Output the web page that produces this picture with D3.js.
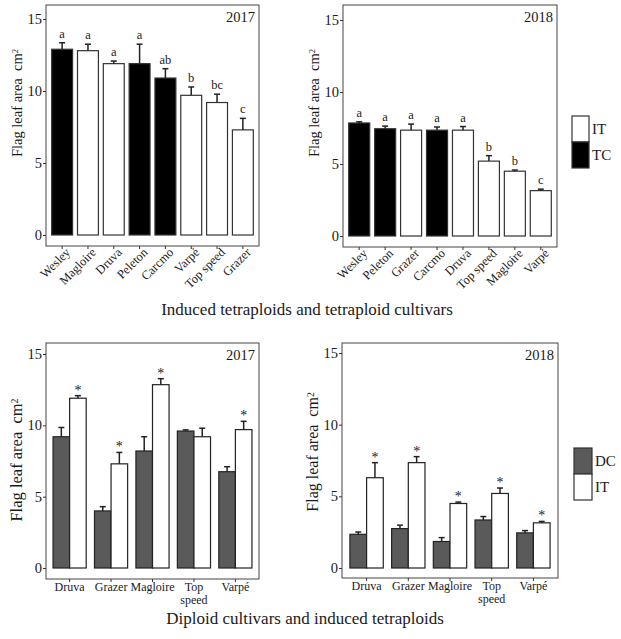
<!DOCTYPE html>
<html>
<head>
<meta charset="utf-8">
<script src="https://cdn.jsdelivr.net/npm/d3@7"></script>
<style>
    body { margin: 0; background: #fff; }
    svg text { font-family: "Liberation Serif", "Times New Roman", serif; fill: #1a1a1a; }
    .axis line { stroke: #333; }
    .axis path { display: none; }
</style>
</head>
<body>
<div id="chart"></div>
<script>

// 2017 - induced tetraploids (IT) and tetraploid cultivars (TC)
var cultivars17 = ["Wesley", "Magloire", "Druva", "Peleton", "Carcmo", "Varpé", "Top speed", "Grazer"];
var area17 = [12.9, 12.8, 11.9, 11.9, 10.9, 9.7, 9.2, 7.3];
var se17 = [0.45, 0.45, 0.18, 1.35, 0.65, 0.58, 0.58, 0.8];
var type17 = ["TC", "IT", "IT", "TC", "TC", "IT", "IT", "IT"];
var letters17 = ["a", "a", "a", "a", "ab", "b", "bc", "c"];

// 2018
var cultivars18 = ["Wesley", "Peleton", "Grazer", "Carcmo", "Druva", "Top speed", "Magloire", "Varpé"];
var area18 = [7.85, 7.45, 7.35, 7.35, 7.35, 5.2, 4.5, 3.15];
var se18 = [0.08, 0.18, 0.42, 0.22, 0.25, 0.38, 0.08, 0.1];
var type18 = ["TC", "TC", "IT", "TC", "IT", "IT", "IT", "IT"];
var letters18 = ["a", "a", "a", "a", "a", "b", "b", "c"];

// Diploid cultivars (DC) vs induced tetraploids (IT)
var pairNames = ["Druva", "Grazer", "Magloire", "Top speed", "Varpé"];
var dc17 = [9.2, 4.0, 8.2, 9.6, 6.75];
var dc17se = [0.65, 0.3, 1.0, 0.08, 0.35];
var it17 = [11.9, 7.3, 12.85, 9.2, 9.7];
var it17se = [0.18, 0.8, 0.42, 0.6, 0.58];
var sig17 = [true, true, true, false, true];
var dc18 = [2.35, 2.75, 1.85, 3.35, 2.45];
var dc18se = [0.16, 0.24, 0.27, 0.24, 0.16];
var it18 = [6.3, 7.35, 4.5, 5.2, 3.15];
var it18se = [1.05, 0.42, 0.1, 0.38, 0.1];
var sig18 = [true, true, true, true, true];

var yTicks = [0, 5, 10, 15];
var fills = { TC: "#000", IT: "#fff", DC: "#5a5a5a" };

var svg = d3.select("#chart").append("svg")
    .attr("width", 621)
    .attr("height", 639);


// shared: frame, y axis, year label, y title
function drawFrame(p, year) {
    var g = svg.append("g");

    g.append("rect")
        .attr("x", p.left)
        .attr("y", p.top)
        .attr("width", p.right - p.left)
        .attr("height", p.bottom - p.top)
        .attr("fill", "none")
        .attr("stroke", "#444")
        .attr("stroke-width", 1);

    var y = d3.scaleLinear().domain([0, 15]).range([p.y0, p.y15]);

    g.append("g")
        .attr("class", "axis")
        .attr("transform", "translate(" + p.left + ",0)")
        .call(d3.axisLeft(y).tickValues(yTicks).tickSize(3).tickPadding(1))
        .selectAll("text")
        .style("font-size", "14.5px");

    g.append("text")
        .attr("x", p.right - 4)
        .attr("y", p.top + 17)
        .attr("text-anchor", "end")
        .style("font-size", "14.5px")
        .text(year);

    var title = g.append("text")
        .attr("transform", "translate(" + (p.left - 24) + "," + p.titleY + ") rotate(-90)")
        .attr("text-anchor", "middle")
        .style("font-size", p.titleSize);
    title.append("tspan").text("Flag leaf area\u00a0\u00a0cm");
    title.append("tspan").attr("dy", "-0.45em").style("font-size", "0.6em").text("2");

    return { g: g, y: y };
}

function errorBar(g, cx, yTop, yEnd) {
    g.append("line")
        .attr("x1", cx).attr("x2", cx)
        .attr("y1", yTop).attr("y2", yEnd)
        .attr("stroke", "#222").attr("stroke-width", 1.5);
    g.append("line")
        .attr("x1", cx - 3).attr("x2", cx + 3)
        .attr("y1", yEnd).attr("y2", yEnd)
        .attr("stroke", "#222").attr("stroke-width", 1.5);
}


// single bars with significance letters (top row)
function drawRanked(p, year, names, values, errs, types, letters) {
    var f = drawFrame(p, year);
    var g = f.g, y = f.y;

    var x = d3.scaleBand()
        .domain(names)
        .range([p.left, p.right])
        .paddingInner(0.19)
        .paddingOuter(0.22);

    var xAxis = g.append("g")
        .attr("class", "axis")
        .attr("transform", "translate(0," + p.bottom + ")")
        .call(d3.axisBottom(x).tickSize(3).tickPadding(2));
    xAxis.selectAll("text")
        .style("font-size", "12.5px")
        .attr("text-anchor", "end")
        .attr("dx", "0.1em")
        .attr("dy", "0.5em")
        .attr("transform", "rotate(-45)");

    names.forEach(function(n, i) {
        g.append("rect")
            .attr("x", x(n))
            .attr("y", y(values[i]))
            .attr("width", x.bandwidth())
            .attr("height", y(0) - y(values[i]))
            .attr("fill", fills[types[i]])
            .attr("stroke", "#333")
            .attr("stroke-width", 1.2);

        var cx = x(n) + x.bandwidth() / 2;
        errorBar(g, cx, y(values[i]), y(values[i] + errs[i]));

        g.append("text")
            .attr("x", cx)
            .attr("y", y(values[i] + errs[i]) - 5)
            .attr("text-anchor", "middle")
            .style("font-size", "12.5px")
            .text(letters[i]);
    });
}


// paired DC / IT bars with stars (bottom row)
function drawPaired(p, year, names, dc, dcErr, it, itErr, sig) {
    var f = drawFrame(p, year);
    var g = f.g, y = f.y;

    var x = d3.scaleBand()
        .domain(names)
        .range([p.left, p.right])
        .paddingInner(0.2)
        .paddingOuter(p.outer);
    var sub = d3.scaleBand()
        .domain(["DC", "IT"])
        .range([0, x.bandwidth()]);

    var xAxis = g.append("g")
        .attr("class", "axis")
        .attr("transform", "translate(0," + p.bottom + ")")
        .call(d3.axisBottom(x).tickSize(3).tickPadding(0));
    xAxis.selectAll("text")
        .style("font-size", "12px")
        .each(function(d) {
            var words = d.split(" ");
            if (words.length > 1) {
                var t = d3.select(this).text(null);
                words.forEach(function(w, k) {
                    t.append("tspan").attr("x", 0).attr("dy", k === 0 ? "0.71em" : "1.14em").text(w);
                });
                t.attr("dy", null);
            }
        });

    names.forEach(function(n, i) {
        var groups = [["DC", dc[i], dcErr[i]], ["IT", it[i], itErr[i]]];
        groups.forEach(function(s) {
            g.append("rect")
                .attr("x", x(n) + sub(s[0]))
                .attr("y", y(s[1]))
                .attr("width", sub.bandwidth())
                .attr("height", y(0) - y(s[1]))
                .attr("fill", fills[s[0]])
                .attr("stroke", "#222")
                .attr("stroke-width", 1.2);
        });
        groups.forEach(function(s) {
            var cx = x(n) + sub(s[0]) + sub.bandwidth() / 2;
            errorBar(g, cx, y(s[1]), y(s[1] + s[2]));
        });
        if (sig[i]) {
            g.append("text")
                .attr("x", x(n) + sub("IT") + sub.bandwidth() / 2)
                .attr("y", y(it[i] + itErr[i]) - 1)
                .attr("text-anchor", "middle")
                .style("font-size", "14px")
                .text("*");
        }
    });
}


function drawLegend(x0, y0, w, h, keys) {
    var g = svg.append("g");
    keys.forEach(function(k, i) {
        g.append("rect")
            .attr("x", x0)
            .attr("y", y0 + i * h)
            .attr("width", w)
            .attr("height", h)
            .attr("fill", fills[k])
            .attr("stroke", "#333")
            .attr("stroke-width", 1.2);
        g.append("text")
            .attr("x", x0 + w + 3)
            .attr("y", y0 + i * h + h / 2 + 5)
            .style("font-size", "15px")
            .text(k);
    });
}


drawRanked({ left: 46, right: 259, top: 5, bottom: 246, y0: 235, y15: 19, titleY: 103, titleSize: "14.5px" },
    "2017", cultivars17, area17, se17, type17, letters17);
drawRanked({ left: 343, right: 557, top: 5, bottom: 247, y0: 236, y15: 20, titleY: 103, titleSize: "14.5px" },
    "2018", cultivars18, area18, se18, type18, letters18);
drawPaired({ left: 46, right: 259, top: 343, bottom: 579, y0: 568, y15: 354, titleY: 460, titleSize: "16.5px", outer: 0.17 },
    "2017", pairNames, dc17, dc17se, it17, it17se, sig17);
drawPaired({ left: 342, right: 558, top: 343, bottom: 578, y0: 568, y15: 353, titleY: 452, titleSize: "16px", outer: 0.19 },
    "2018", pairNames, dc18, dc18se, it18, it18se, sig18);

drawLegend(572, 116, 17, 26, ["IT", "TC"]);
drawLegend(574, 448, 18, 26, ["DC", "IT"]);

// section captions
svg.append("text")
    .attr("x", 307)
    .attr("y", 315)
    .attr("text-anchor", "middle")
    .style("font-size", "17px")
    .text("Induced tetraploids and tetraploid cultivars");
svg.append("text")
    .attr("x", 305)
    .attr("y", 624)
    .attr("text-anchor", "middle")
    .style("font-size", "17px")
    .text("Diploid cultivars and induced tetraploids");

</script>
</body>
</html>
